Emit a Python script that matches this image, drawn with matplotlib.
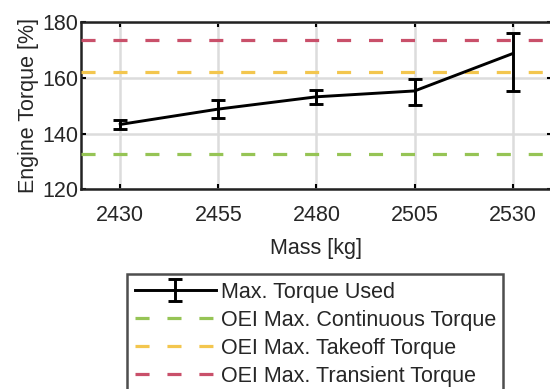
import matplotlib
matplotlib.use("Agg")
import matplotlib.pyplot as plt

plt.rcParams['font.family'] = ['Liberation Sans', 'DejaVu Sans']

mass = [2430, 2455, 2480, 2505, 2530]  # kg
torque = [143.3, 148.8, 153.2, 155.3, 168.7]  # %
err_low = [1.5, 3.3, 2.5, 5.0, 13.4]
err_high = [1.5, 3.3, 2.6, 4.2, 7.3]

limits = [132.7, 162.2, 173.6]
limit_labels = ["OEI Max. Continuous Torque", "OEI Max. Takeoff Torque",
                "OEI Max. Transient Torque"]
limit_colors = ["#96c455", "#f3c64e", "#c9506a"]

fs = 15.5

fig = plt.figure(figsize=(5.5, 3.89), dpi=100)
ax = fig.add_axes([0.1473, 0.513, 0.8563, 0.4304])

h_data = ax.errorbar(mass, torque, yerr=[err_low, err_high], color="black",
                     lw=2.1, elinewidth=2.1, capsize=5, capthick=2.1,
                     label="Max. Torque Used", zorder=5)

handles = [h_data]
for val, lab, col in zip(limits, limit_labels, limit_colors):
    h, = ax.plot([2420, 2540], [val, val], color=col, lw=2.3,
                 dashes=(4.4, 5.6), label=lab, zorder=3)
    handles.append(h)

ax.set_xlim(2420, 2540)
ax.set_ylim(120, 180)
ax.set_xticks(mass)
ax.set_yticks([120, 140, 160, 180])
ax.grid(True, color="#dcdcdc", lw=1.8, zorder=0)
ax.set_axisbelow(True)
ax.tick_params(direction="in", length=3.5, width=1.5, top=True, right=True,
               labelsize=fs, colors="black", labelcolor="#262626")
ax.tick_params(axis="x", pad=11)
ax.tick_params(axis="y", pad=2)
for s in ax.spines.values():
    s.set_linewidth(1.8)
    s.set_color("#222222")

ax.set_xlabel("Mass [kg]", fontsize=fs, color="#262626", labelpad=9)
ax.set_ylabel("Engine Torque [%]", fontsize=fs, color="#262626", labelpad=2.5)

leg = fig.legend(handles=handles, loc="upper left",
                 bbox_to_anchor=(127 / 550, 1 - 274 / 389),
                 fontsize=fs, frameon=True, fancybox=False,
                 handlelength=3.8, handletextpad=0.2, labelspacing=0.33,
                 borderpad=0.35, borderaxespad=0)
leg.get_frame().set_edgecolor("#222222")
leg.get_frame().set_linewidth(1.8)
for t in leg.get_texts():
    t.set_color("#262626")

fig.savefig("out.png", dpi=100)
